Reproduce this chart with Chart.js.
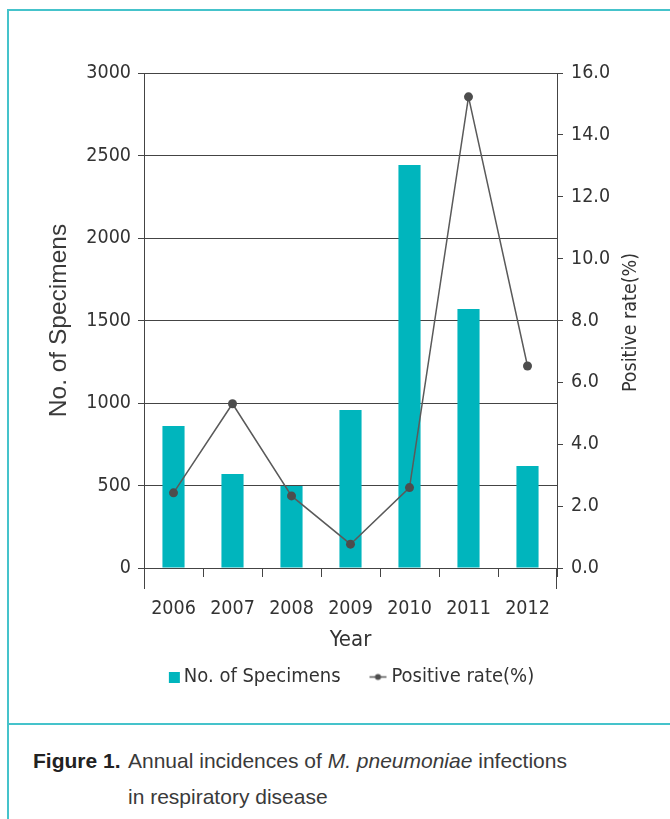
<!DOCTYPE html>
<html>
<head>
<meta charset="utf-8">
<script src="https://cdn.jsdelivr.net/npm/chart.js@4.4.1/dist/chart.umd.min.js"></script>
<style>
  html, body { margin: 0; padding: 0; background: #ffffff; }
  body { width: 670px; height: 819px; position: relative; overflow: hidden; }
  #frame { position: absolute; left: 7px; top: 9px; width: 700px; height: 850px;
           border-top: 2px solid #45c3cb; border-left: 2px solid #45c3cb; box-sizing: border-box; }
  #divider { position: absolute; left: 7px; top: 723px; width: 680px; height: 0;
             border-top: 2px solid #45c3cb; }
  #chart { position: absolute; left: 0; top: 0; }
  #caption { position: absolute; left: 33px; top: 743px; width: 620px;
             font-family: "Liberation Sans", Arial, sans-serif; font-size: 21px; line-height: 35.5px;
             color: #3a3a3a; padding-left: 95px; box-sizing: border-box; }
  #caption b { color: #222; display: inline-block; width: 95px; margin-left: -95px; }
</style>
</head>
<body>
<div id="frame"></div>
<div id="divider"></div>
<canvas id="chart" width="670" height="697"></canvas>
<div id="caption"><b>Figure 1.</b>Annual incidences of <i>M. pneumoniae</i> infections<br>in respiratory disease</div>
<script>
// ---- data ----
const years = ['2006', '2007', '2008', '2009', '2010', '2011', '2012'];
const specimens = [860, 570, 497, 958, 2442, 1570, 618];
const positiveRate = [2.43, 5.31, 2.33, 0.77, 2.6, 15.23, 6.53];
const leftTicks = [0, 500, 1000, 1500, 2000, 2500, 3000];
const rightTicks = [0, 2, 4, 6, 8, 10, 12, 14, 16];
const seriesNames = ['No. of Specimens', 'Positive rate(%)'];
const xTitle = 'Year';
const leftTitle = 'No. of Specimens';
const rightTitle = 'Positive rate(%)';

const TEAL = '#00b5bd';
const LINE = '#5a5a5a';
const DOT = '#4d4d4d';
const AXIS = '#444444';
const NARROW = '"DejaVu Sans Condensed", "DejaVu Sans", sans-serif';
const WIDE = '"Liberation Sans", Arial, sans-serif';

// legend images
function barIcon() {
  const c = document.createElement('canvas'); c.width = 24; c.height = 11;
  const g = c.getContext('2d'); g.fillStyle = TEAL; g.fillRect(11, 0, 11, 11); return c;
}
function lineIcon() {
  const c = document.createElement('canvas'); c.width = 22; c.height = 11;
  const g = c.getContext('2d');
  g.strokeStyle = LINE; g.lineWidth = 1.5; g.beginPath(); g.moveTo(3, 5.5); g.lineTo(20, 5.5); g.stroke();
  g.fillStyle = DOT; g.beginPath(); g.arc(11.5, 5.5, 3, 0, Math.PI * 2); g.fill(); return c;
}

const extras = {
  id: 'extras',
  afterDraw(chart) {
    const ctx = chart.ctx, a = chart.chartArea;
    ctx.save();
    ctx.strokeStyle = AXIS; ctx.lineWidth = 1;
    ctx.beginPath();
    const l = Math.round(a.left) + 0.5, r = Math.round(a.right) - 0.5;
    ctx.moveTo(l, a.bottom); ctx.lineTo(l, a.bottom + 21);
    ctx.moveTo(r, a.bottom); ctx.lineTo(r, a.bottom + 21);
    ctx.stroke();
    const s = chart.scales.y2;
    ctx.translate(s.left + 74, (a.top + a.bottom) / 2 + 2);
    ctx.rotate(-Math.PI / 2);
    ctx.textAlign = 'center'; ctx.textBaseline = 'middle';
    ctx.font = '19.5px ' + NARROW;
    ctx.fillStyle = '#333333';
    ctx.fillText(rightTitle, 0, 0);
    ctx.restore();
  }
};

new Chart(document.getElementById('chart'), {
  data: {
    labels: years,
    datasets: [
      {
        type: 'line', label: seriesNames[1], data: positiveRate, yAxisID: 'y2',
        borderColor: LINE, borderWidth: 1.5, tension: 0,
        pointRadius: 4.5, pointBackgroundColor: DOT, pointBorderColor: DOT, pointBorderWidth: 0,
        order: 0
      },
      {
        type: 'bar', label: seriesNames[0], data: specimens, yAxisID: 'y',
        backgroundColor: TEAL, borderWidth: 0,
        categoryPercentage: 1, barPercentage: 0.375, order: 1
      }
    ]
  },
  options: {
    responsive: false,
    devicePixelRatio: 1,
    animation: false,
    layout: { padding: { left: 30, top: 73, right: 0, bottom: 0 } },
    plugins: {
      tooltip: { enabled: false },
      legend: {
        position: 'bottom',
        labels: {
          usePointStyle: true, pointStyleWidth: 8, boxHeight: 11, padding: 10,
          color: '#333333', font: { family: NARROW, size: 20 },
          generateLabels(chart) {
            return [
              { text: seriesNames[0] + '    ', pointStyle: barIcon(), fillStyle: TEAL, strokeStyle: TEAL, lineWidth: 0, datasetIndex: 1, fontColor: '#333333' },
              { text: seriesNames[1], pointStyle: lineIcon(), fillStyle: DOT, strokeStyle: LINE, lineWidth: 0, datasetIndex: 0, fontColor: '#333333' }
            ];
          }
        }
      }
    },
    scales: {
      x: {
        type: 'category', offset: true,
        grid: { display: true, drawOnChartArea: false, drawTicks: true, tickLength: 9, offset: true, color: AXIS, lineWidth: 1 },
        border: { display: true, color: AXIS, width: 1 },
        ticks: { color: '#333333', padding: 20, font: { family: NARROW, size: 19.5 }, maxRotation: 0 },
        title: { display: true, text: xTitle, color: '#333333', font: { family: NARROW, size: 22 }, padding: { top: 2, bottom: 4 } },
        afterFit(s) { s.height = 89; }
      },
      y: {
        position: 'left', min: 0, max: 3000,
        afterBuildTicks(s) { s.ticks = leftTicks.map(v => ({ value: v })); },
        grid: { display: true, drawOnChartArea: true, drawTicks: true, tickLength: 6, color: AXIS, lineWidth: 1 },
        border: { display: true, color: AXIS, width: 1 },
        ticks: { color: '#333333', padding: 7, font: { family: NARROW, size: 19.5 }, callback: v => String(v) },
        title: { display: true, text: leftTitle, color: '#3a3a3a', font: { family: WIDE, size: 24.5 }, padding: { top: 15, bottom: 0 } },
        afterFit(s) { s.width = 114; }
      },
      y2: {
        position: 'right', min: 0, max: 16,
        afterBuildTicks(s) { s.ticks = rightTicks.map(v => ({ value: v })); },
        grid: { display: true, drawOnChartArea: false, drawTicks: true, tickLength: 6, color: AXIS, lineWidth: 1 },
        border: { display: true, color: AXIS, width: 1 },
        ticks: { color: '#333333', padding: 8, font: { family: NARROW, size: 19.5 }, callback: v => Number(v).toFixed(1) },
        title: { display: false },
        afterFit(s) { s.width = 113; }
      }
    }
  },
  plugins: [extras]
});
</script>
</body>
</html>
